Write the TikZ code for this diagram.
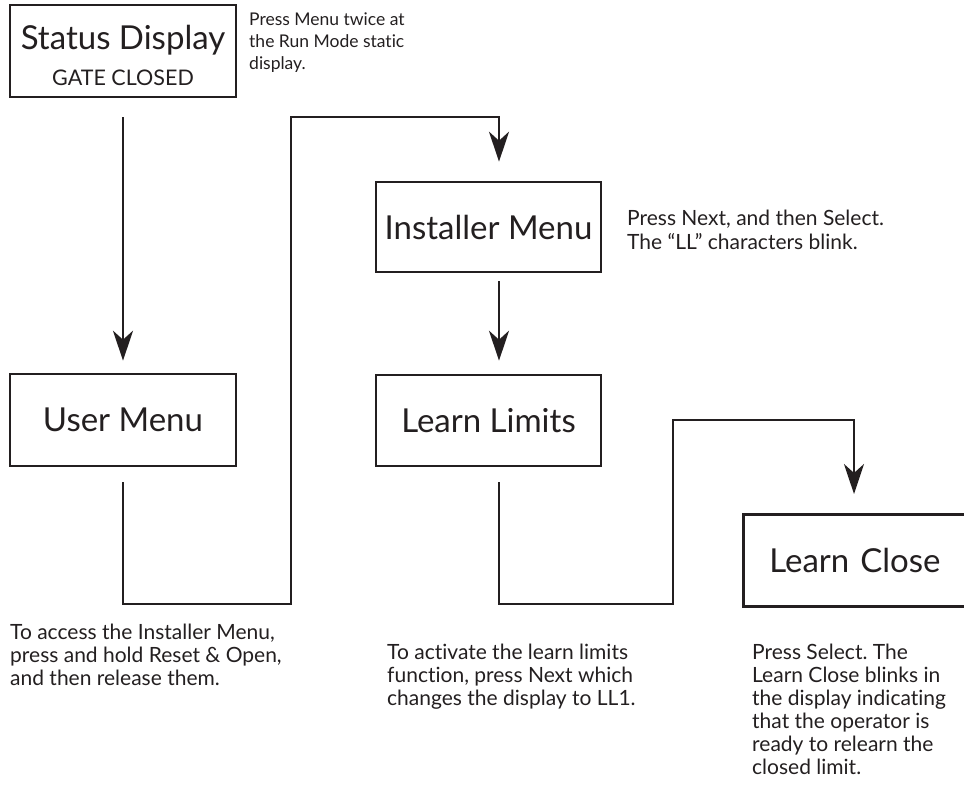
\documentclass[tikz,border=0pt]{standalone}
\usepackage{fontspec}
\setmainfont{Lato}[Ligatures=NoCommon]
\usetikzlibrary{arrows.meta}
\definecolor{ink}{HTML}{231F20}
\frenchspacing

\begin{document}
\begin{tikzpicture}[x=1pt,y=-1pt,
  box/.style={draw=ink,line width=2.6pt,text=ink,inner sep=0pt,minimum width=226pt,minimum height=92pt,font=\fontsize{33}{38}\selectfont},
  note/.style={anchor=north west,align=left,inner sep=0pt,text=ink,font=\fontsize{21}{23}\selectfont},
  flow/.style={draw=ink,line width=2.2pt,-{Stealth[length=30pt,width=20pt,inset=9pt]}}]
\useasboundingbox (0,0) rectangle (964,791);
\clip (0,0) rectangle (964,791);

\node[box,align=center] (sd) at (123,51) {\rule{0pt}{33pt}Status Display\\[-2pt]{\fontsize{21.5}{24}\selectfont GATE CLOSED}};
\node[box] (um) at (123,420) {User Menu};
\node[box,minimum width=225pt,minimum height=90pt] (im) at (488.5,227) {Installer Menu};
\node[box,minimum width=225pt,minimum height=91pt] (ll) at (488.5,420.5) {Learn Limits};
\node[box,anchor=north west,minimum height=92pt,text width=188pt,inner xsep=26pt,align=left] (lc) at (742,513) {Learn Close};

\coordinate (im in) at ([xshift=10.5pt,yshift=19pt]im.north);
\coordinate (ll in) at ([xshift=10.5pt,yshift=13pt]ll.north);
\coordinate (lc in) at (854,494);

\draw[flow,shorten <=19pt,shorten >=12pt] (sd.south) -- (um.north);
\draw[flow] ([yshift=-15pt]um.south) |- (291,604) |- (499,117) -- (im in);
\draw[flow] ([xshift=10.5pt,yshift=-8pt]im.south) -- (ll in);
\draw[flow] ([xshift=10.5pt,yshift=-15pt]ll.south) |- (673,604) |- (854,420) -- (lc in);

\node[note,font=\fontsize{17.5}{22}\selectfont] (n1) at (249,13) {Press Menu twice at\\the Run Mode static\\display.};
\node[note,font=\fontsize{21}{24}\selectfont] (n2) at (627,210) {Press Next, and then Select.\\The “LL” characters blink.};
\node[note] (n3) at (10,624) {To access the Installer Menu,\\press and hold Reset \& Open,\\and then release them.};
\node[note] (n4) at (387,644) {To activate the learn limits\\function, press Next which\\changes the display to LL1.};
\node[note] (n5) at (752,644) {Press Select. The\\Learn Close blinks in\\the display indicating\\that the operator is\\ready to relearn the\\closed limit.};
\end{tikzpicture}
\end{document}
